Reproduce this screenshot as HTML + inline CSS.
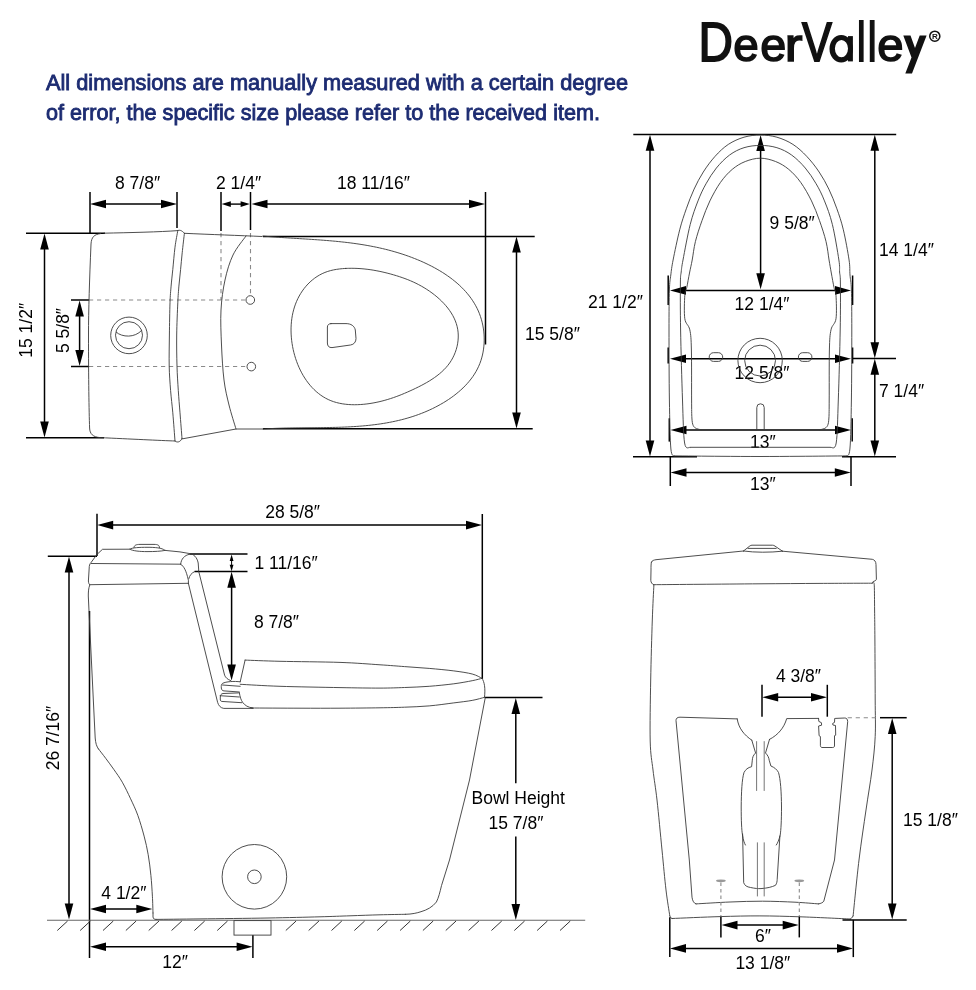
<!DOCTYPE html>
<html><head><meta charset="utf-8"><style>
html,body{margin:0;padding:0;background:#fff;}
body{width:976px;height:990px;overflow:hidden;position:relative;font-family:"Liberation Sans",sans-serif;}
svg{position:absolute;left:0;top:0;}
text{font-family:"Liberation Sans",sans-serif;}
svg{-webkit-font-smoothing:antialiased;will-change:transform;}
</style></head><body>
<svg width="976" height="990" viewBox="0 0 976 990">
<text x="0" y="0" font-size="57.6" fill="#111" stroke="#111" stroke-width="1.9" transform="translate(698.43 61.1) scale(0.8295 0.9753)">D</text>
<text x="0" y="0" font-size="57.6" fill="#111" stroke="#111" stroke-width="1.9" transform="translate(733.3 61.1) scale(0.7955 0.7921)">e</text>
<text x="0" y="0" font-size="57.6" fill="#111" stroke="#111" stroke-width="1.9" transform="translate(760.37 61.1) scale(0.8103 0.7921)">e</text>
<text x="0" y="0" font-size="57.6" fill="#111" stroke="#111" stroke-width="1.9" transform="translate(784.72 61.1) scale(0.9236 0.7985)">r</text>
<text x="0" y="0" font-size="57.6" fill="#111" stroke="#111" stroke-width="1.9" transform="translate(802.05 61.1) scale(0.7781 0.9753)">V</text>
<path fill-rule="evenodd" fill="#111" d="M829.5,48.7 A11.7,13.8 0 1 0 852.9,48.7 A11.7,13.8 0 1 0 829.5,48.7 Z M834.9,48.55 A6.55,8.65 0 1 0 848,48.55 A6.55,8.65 0 1 0 834.9,48.55 Z"/><rect x="848" y="36.1" width="4.9" height="25.3" fill="#111"/>
<text x="0" y="0" font-size="57.6" fill="#111" stroke="#111" stroke-width="1.9" transform="translate(856.94 61.1) scale(0.6716 0.9787)">l</text>
<text x="0" y="0" font-size="57.6" fill="#111" stroke="#111" stroke-width="1.9" transform="translate(867.77 61.1) scale(0.6914 0.9787)">l</text>
<text x="0" y="0" font-size="57.6" fill="#111" stroke="#111" stroke-width="1.9" transform="translate(877.34 61.1) scale(0.8214 0.7921)">e</text>
<path fill="#111" d="M903.3,35.5 L910.5,35.5 L915,48 L919.7,35.5 L926.6,35.5 L912,73.4 L905.3,73.4 L911.5,57.5 Z"/>
<circle cx="934.8" cy="36.2" r="5.05" stroke="#111" stroke-width="1.5" fill="none"/><text x="934.9" y="39.1" font-size="8" font-weight="bold" text-anchor="middle" fill="#111">R</text>
<text x="46" y="89.5" font-size="22" fill="#1d2c72" stroke="#1d2c72" stroke-width="0.85" textLength="582" lengthAdjust="spacingAndGlyphs">All dimensions are manually measured with a certain degree</text>
<text x="46" y="119.8" font-size="22" fill="#1d2c72" stroke="#1d2c72" stroke-width="0.85" textLength="554" lengthAdjust="spacingAndGlyphs">of error, the specific size please refer to the received item.</text>
<line x1="90" y1="192" x2="90" y2="233.5" stroke="#000" stroke-width="1.5" />
<line x1="177" y1="192" x2="177" y2="228" stroke="#000" stroke-width="1.5" />
<line x1="102.8" y1="204" x2="164.2" y2="204" stroke="#000" stroke-width="1.5" />
<path d="M90,204L106,199.7L106,208.3Z" fill="#000"/>
<path d="M177,204L161,208.3L161,199.7Z" fill="#000"/>
<text x="115" y="189.2" font-size="17.5" text-anchor="start" fill="#000" >8 7/8″</text>
<line x1="221" y1="192" x2="221" y2="231" stroke="#000" stroke-width="1.5" />
<line x1="250.5" y1="192" x2="250.5" y2="230" stroke="#000" stroke-width="1.5" />
<line x1="228.96" y1="204.1" x2="242.44" y2="204.1" stroke="#000" stroke-width="1.4" />
<path d="M221.6,204.1L230.8,201.3L230.8,206.9Z" fill="#000"/>
<path d="M249.8,204.1L240.6,206.9L240.6,201.3Z" fill="#000"/>
<text x="216" y="189.3" font-size="17.5" text-anchor="start" fill="#000" >2 1/4″</text>
<line x1="485.5" y1="192" x2="485.5" y2="344.5" stroke="#000" stroke-width="1.5" />
<line x1="264.3" y1="204" x2="472.2" y2="204" stroke="#000" stroke-width="1.5" />
<path d="M251.5,204L267.5,199.7L267.5,208.3Z" fill="#000"/>
<path d="M485,204L469,208.3L469,199.7Z" fill="#000"/>
<text x="337" y="189.2" font-size="17.5" text-anchor="start" fill="#000" >18 11/16″</text>
<line x1="26" y1="233.2" x2="105" y2="233.2" stroke="#000" stroke-width="1.5" />
<line x1="26" y1="437.8" x2="104" y2="437.8" stroke="#000" stroke-width="1.5" />
<line x1="44.5" y1="246.3" x2="44.5" y2="424.7" stroke="#000" stroke-width="1.5" />
<path d="M44.5,233.5L48.8,249.5L40.2,249.5Z" fill="#000"/>
<path d="M44.5,437.5L40.2,421.5L48.8,421.5Z" fill="#000"/>
<text x="32.2" y="330.3" font-size="17.5" text-anchor="middle" fill="#000" transform="rotate(-90 32.2 330.3)" >15 1/2″</text>
<line x1="71" y1="300" x2="89" y2="300" stroke="#000" stroke-width="1.5" />
<line x1="71" y1="366.5" x2="89" y2="366.5" stroke="#000" stroke-width="1.5" />
<line x1="79.6" y1="313.3" x2="79.6" y2="353.2" stroke="#000" stroke-width="1.5" />
<path d="M79.6,300.5L83.9,316.5L75.3,316.5Z" fill="#000"/>
<path d="M79.6,366L75.3,350L83.9,350Z" fill="#000"/>
<text x="69" y="330.5" font-size="17.5" text-anchor="middle" fill="#000" transform="rotate(-90 69 330.5)" >5 5/8″</text>
<line x1="89" y1="300" x2="246" y2="300" stroke="#8a8a8a" stroke-width="1.1" stroke-dasharray="4.2,3.8"/>
<line x1="89" y1="366.5" x2="247" y2="366.5" stroke="#8a8a8a" stroke-width="1.1" stroke-dasharray="4.2,3.8"/>
<line x1="221" y1="233" x2="221" y2="300" stroke="#8a8a8a" stroke-width="1.1" stroke-dasharray="4.2,3.8"/>
<line x1="250.5" y1="233" x2="250.5" y2="295.5" stroke="#8a8a8a" stroke-width="1.1" stroke-dasharray="4.2,3.8"/>
<circle cx="250.3" cy="300" r="4.3" stroke="#3a3a3a" stroke-width="0.9" fill="none"/>
<circle cx="251.3" cy="366.6" r="4.3" stroke="#3a3a3a" stroke-width="0.9" fill="none"/>
<line x1="263" y1="236.4" x2="534.7" y2="236.4" stroke="#000" stroke-width="1.5" />
<line x1="263" y1="428.7" x2="532.7" y2="428.7" stroke="#000" stroke-width="1.5" />
<line x1="516.5" y1="249.4" x2="516.5" y2="415.7" stroke="#000" stroke-width="1.5" />
<path d="M516.5,236.6L520.8,252.6L512.2,252.6Z" fill="#000"/>
<path d="M516.5,428.5L512.2,412.5L520.8,412.5Z" fill="#000"/>
<text x="525" y="339.8" font-size="17.5" text-anchor="start" fill="#000" >15 5/8″</text>
<path d="M104,233.2 C130,232.6 160,232 177.8,230.6" stroke="#3a3a3a" stroke-width="0.9" fill="none" stroke-linejoin="round" stroke-linecap="round" />
<path d="M100.5,233.6 C94,234.5 91.5,237 91,244 C89.5,280 88.5,310 88.5,335 C88.5,380 89,410 89.6,428 C89.8,434 93,437 100,437.6 C130,439 160,440.5 175,441" stroke="#3a3a3a" stroke-width="0.9" fill="none" stroke-linejoin="round" stroke-linecap="round" />
<path d="M177.8,230.6C177.33,233.37 175.83,240.73 175,247.2C174.17,253.67 173.45,262.92 172.8,269.4C172.15,275.88 171.57,280.53 171.1,286.1C170.63,291.67 170.28,294.65 170,302.8C169.72,310.95 169.53,324.45 169.4,335C169.27,345.55 169,356.83 169.2,366.1C169.4,375.37 170,382.82 170.6,390.6C171.2,398.38 172.07,404.4 172.8,412.8C173.53,421.2 174.63,436.3 175,441" stroke="#3a3a3a" stroke-width="0.9" fill="none" stroke-linejoin="round" stroke-linecap="round" />
<path d="M184.4,233.3C184.03,236.55 182.83,246.78 182.2,252.8C181.57,258.82 181.15,263.85 180.6,269.4C180.05,274.95 179.37,280.53 178.9,286.1C178.43,291.67 178.17,294.65 177.8,302.8C177.43,310.95 176.83,324.45 176.7,335C176.57,345.55 176.73,356.83 177,366.1C177.27,375.37 177.8,382.82 178.3,390.6C178.8,398.38 179.38,404.82 180,412.8C180.62,420.78 181.67,434.22 182,438.5" stroke="#3a3a3a" stroke-width="0.9" fill="none" stroke-linejoin="round" stroke-linecap="round" />
<path d="M177.8,230.6 C179.5,229.8 181.5,230 184.4,233.3" stroke="#3a3a3a" stroke-width="0.9" fill="none" stroke-linejoin="round" stroke-linecap="round" />
<path d="M175,441 C176.5,442.5 180,443 182,438.5" stroke="#3a3a3a" stroke-width="0.9" fill="none" stroke-linejoin="round" stroke-linecap="round" />
<path d="M184.4,233.3 C210,234.5 240,235.5 262,236.5" stroke="#3a3a3a" stroke-width="0.9" fill="none" stroke-linejoin="round" stroke-linecap="round" />
<path d="M182,438.9 L236,429 L263,429" stroke="#3a3a3a" stroke-width="0.9" fill="none" stroke-linejoin="round" stroke-linecap="round" />
<path d="M246,236C243.83,239.17 236.5,247.67 233,255C229.5,262.33 227,270.83 225,280C223,289.17 221.58,299.17 221,310C220.42,320.83 221,333.33 221.5,345C222,356.67 222.75,370 224,380C225.25,390 227,396.83 229,405C231,413.17 234.83,425 236,429" stroke="#3a3a3a" stroke-width="0.9" fill="none" stroke-linejoin="round" stroke-linecap="round" />
<circle cx="129" cy="335.4" r="18.3" stroke="#3a3a3a" stroke-width="0.9" fill="none"/>
<circle cx="129" cy="335.2" r="13.5" stroke="#3a3a3a" stroke-width="0.9" fill="none"/>
<path d="M116.3,332.2 C122,337.5 135,338 141.5,330.5" stroke="#3a3a3a" stroke-width="0.9" fill="none" stroke-linejoin="round" stroke-linecap="round" />
<path d="M262.79,236.08C263.3,236.12 264.85,236.25 265.88,236.34C266.91,236.42 267.94,236.51 268.97,236.59C270,236.67 271.02,236.75 272.05,236.83C273.07,236.9 274.1,236.98 275.12,237.05C276.15,237.13 277.17,237.2 278.19,237.27C279.21,237.34 280.23,237.41 281.25,237.48C282.27,237.55 283.29,237.61 284.3,237.68C285.32,237.75 286.34,237.81 287.35,237.88C288.37,237.94 289.38,238.01 290.4,238.07C291.41,238.13 292.42,238.2 293.43,238.26C294.44,238.32 295.45,238.38 296.46,238.45C297.47,238.51 298.48,238.57 299.49,238.63C300.5,238.7 301.5,238.76 302.51,238.82C303.52,238.88 304.52,238.95 305.52,239.01C306.53,239.07 307.53,239.14 308.53,239.2C309.54,239.26 310.54,239.33 311.54,239.4C312.54,239.46 313.54,239.53 314.54,239.6C315.54,239.67 316.54,239.74 317.53,239.81C318.53,239.88 319.53,239.95 320.52,240.02C321.52,240.1 322.52,240.17 323.51,240.25C324.5,240.32 325.5,240.4 326.49,240.48C327.49,240.56 328.48,240.65 329.47,240.73C330.46,240.81 331.45,240.9 332.44,240.99C333.43,241.08 334.42,241.17 335.41,241.26C336.4,241.36 337.39,241.45 338.38,241.55C339.37,241.65 340.35,241.75 341.34,241.86C342.33,241.96 343.31,242.07 344.3,242.18C345.28,242.3 346.27,242.41 347.25,242.53C348.24,242.64 349.22,242.77 350.2,242.89C351.19,243.02 352.17,243.14 353.15,243.28C354.13,243.41 355.12,243.54 356.1,243.68C357.08,243.82 358.06,243.97 359.04,244.11C360.02,244.26 361,244.41 361.98,244.57C362.96,244.73 363.94,244.89 364.92,245.05C365.9,245.22 366.87,245.39 367.85,245.57C368.83,245.74 369.81,245.92 370.78,246.11C371.76,246.29 372.74,246.48 373.71,246.68C374.69,246.87 375.67,247.07 376.64,247.28C377.62,247.48 378.59,247.69 379.57,247.91C380.54,248.13 381.52,248.35 382.49,248.58C383.47,248.81 384.44,249.04 385.41,249.28C386.39,249.52 387.36,249.77 388.33,250.02C389.31,250.28 390.28,250.53 391.25,250.8C392.23,251.07 393.2,251.34 394.17,251.62C395.14,251.89 396.12,252.18 397.09,252.47C398.06,252.76 399.03,253.06 400,253.37C400.97,253.68 401.95,253.99 402.92,254.31C403.89,254.63 404.86,254.96 405.83,255.29C406.8,255.63 407.77,255.97 408.74,256.32C409.72,256.67 410.69,257.03 411.65,257.4C412.62,257.76 413.59,258.13 414.56,258.52C415.52,258.9 416.49,259.29 417.45,259.68C418.41,260.08 419.37,260.49 420.33,260.9C421.28,261.31 422.24,261.73 423.19,262.16C424.14,262.59 425.08,263.03 426.03,263.47C426.97,263.92 427.91,264.37 428.84,264.83C429.77,265.3 430.7,265.77 431.63,266.24C432.55,266.72 433.47,267.21 434.38,267.7C435.29,268.2 436.2,268.7 437.1,269.22C438,269.73 438.89,270.25 439.77,270.78C440.66,271.31 441.54,271.85 442.41,272.39C443.28,272.94 444.14,273.5 445,274.06C445.85,274.63 446.7,275.2 447.53,275.78C448.37,276.36 449.2,276.95 450.02,277.56C450.84,278.16 451.64,278.76 452.44,279.38C453.24,280 454.03,280.63 454.81,281.27C455.58,281.9 456.35,282.55 457.11,283.2C457.86,283.86 458.61,284.52 459.34,285.2C460.07,285.87 460.79,286.56 461.5,287.25C462.2,287.94 462.9,288.64 463.58,289.36C464.26,290.07 464.93,290.79 465.58,291.52C466.24,292.25 466.88,292.99 467.5,293.75C468.13,294.5 468.74,295.26 469.34,296.03C469.93,296.8 470.51,297.58 471.08,298.37C471.65,299.16 472.2,299.96 472.73,300.77C473.26,301.58 473.78,302.4 474.28,303.23C474.78,304.06 475.27,304.9 475.73,305.75C476.2,306.61 476.65,307.47 477.08,308.34C477.51,309.21 477.92,310.09 478.32,310.98C478.71,311.88 479.09,312.78 479.44,313.69C479.8,314.61 480.14,315.53 480.45,316.46C480.77,317.4 481.07,318.34 481.34,319.29C481.62,320.25 481.88,321.21 482.12,322.17C482.36,323.14 482.57,324.12 482.77,325.1C482.97,326.08 483.15,327.06 483.31,328.06C483.46,329.05 483.6,330.04 483.72,331.04C483.83,332.04 483.93,333.04 484,334.05C484.08,335.05 484.13,336.06 484.16,337.07C484.2,338.07 484.21,339.08 484.2,340.09C484.19,341.1 484.16,342.11 484.11,343.11C484.06,344.12 483.99,345.12 483.89,346.13C483.8,347.13 483.68,348.13 483.54,349.12C483.41,350.12 483.25,351.11 483.07,352.09C482.88,353.08 482.68,354.06 482.46,355.03C482.23,356 481.98,356.97 481.71,357.93C481.44,358.89 481.15,359.84 480.84,360.78C480.52,361.72 480.18,362.65 479.82,363.57C479.46,364.5 479.08,365.41 478.67,366.31C478.27,367.21 477.84,368.1 477.39,368.98C476.94,369.85 476.47,370.72 475.98,371.58C475.49,372.43 474.98,373.28 474.45,374.11C473.92,374.95 473.36,375.77 472.8,376.58C472.23,377.4 471.64,378.2 471.03,378.99C470.43,379.78 469.81,380.56 469.17,381.33C468.53,382.09 467.87,382.85 467.2,383.6C466.53,384.34 465.84,385.08 465.14,385.81C464.44,386.53 463.73,387.24 463,387.95C462.27,388.65 461.52,389.34 460.77,390.02C460.01,390.7 459.24,391.37 458.46,392.03C457.68,392.69 456.89,393.34 456.09,393.98C455.29,394.62 454.47,395.24 453.65,395.86C452.83,396.48 452,397.08 451.16,397.68C450.31,398.27 449.46,398.85 448.61,399.43C447.75,400 446.88,400.56 446.01,401.11C445.14,401.67 444.26,402.21 443.37,402.74C442.49,403.27 441.6,403.78 440.7,404.29C439.81,404.8 438.9,405.3 438,405.78C437.1,406.27 436.19,406.75 435.28,407.21C434.37,407.68 433.45,408.13 432.53,408.58C431.62,409.02 430.7,409.45 429.77,409.88C428.85,410.3 427.93,410.71 427,411.12C426.07,411.52 425.14,411.91 424.2,412.3C423.27,412.68 422.34,413.06 421.4,413.42C420.46,413.78 419.52,414.14 418.57,414.49C417.63,414.83 416.68,415.17 415.74,415.49C414.79,415.82 413.84,416.14 412.88,416.45C411.93,416.76 410.98,417.06 410.02,417.35C409.06,417.65 408.1,417.93 407.14,418.21C406.18,418.48 405.22,418.75 404.25,419.01C403.28,419.27 402.32,419.52 401.35,419.77C400.38,420.01 399.41,420.25 398.43,420.48C397.46,420.71 396.48,420.93 395.51,421.14C394.53,421.36 393.55,421.56 392.57,421.76C391.59,421.96 390.61,422.16 389.62,422.34C388.64,422.53 387.65,422.71 386.67,422.88C385.68,423.06 384.69,423.22 383.7,423.39C382.71,423.55 381.72,423.7 380.73,423.85C379.73,424 378.74,424.14 377.74,424.28C376.75,424.42 375.75,424.55 374.75,424.67C373.76,424.8 372.76,424.92 371.76,425.03C370.76,425.15 369.75,425.26 368.75,425.36C367.75,425.47 366.75,425.57 365.74,425.67C364.74,425.76 363.73,425.85 362.73,425.94C361.72,426.02 360.71,426.11 359.7,426.18C358.7,426.26 357.69,426.34 356.68,426.41C355.67,426.47 354.66,426.54 353.65,426.6C352.64,426.66 351.63,426.72 350.61,426.78C349.6,426.83 348.59,426.88 347.58,426.93C346.56,426.98 345.55,427.03 344.54,427.07C343.52,427.11 342.51,427.15 341.49,427.19C340.48,427.22 339.46,427.26 338.45,427.29C337.43,427.32 336.42,427.35 335.4,427.38C334.39,427.4 333.37,427.43 332.36,427.45C331.34,427.47 330.33,427.49 329.31,427.51C328.29,427.53 327.28,427.55 326.26,427.56C325.25,427.58 324.23,427.6 323.22,427.61C322.2,427.62 321.19,427.63 320.17,427.65C319.16,427.66 318.14,427.67 317.13,427.68C316.11,427.69 315.1,427.7 314.09,427.71C313.07,427.71 312.06,427.72 311.05,427.73C310.04,427.74 309.02,427.75 308.01,427.75C307,427.76 305.99,427.77 304.98,427.78C303.97,427.79 302.96,427.8 301.95,427.81C300.94,427.82 299.93,427.83 298.93,427.84C297.92,427.85 296.91,427.86 295.91,427.87C294.9,427.88 293.9,427.9 292.9,427.91C291.89,427.93 290.89,427.94 289.89,427.96C288.89,427.98 287.89,428 286.89,428.02C285.89,428.04 284.89,428.07 283.9,428.09C282.9,428.12 281.9,428.15 280.91,428.18C279.91,428.21 278.92,428.24 277.93,428.27C276.94,428.31 275.95,428.35 274.96,428.39C273.97,428.43 272.99,428.47 272,428.52C271.02,428.56 270.03,428.61 269.05,428.66C268.07,428.72 267.09,428.77 266.11,428.83C265.13,428.89 263.67,428.99 263.18,429.02" stroke="#3a3a3a" stroke-width="0.9" fill="none" stroke-linejoin="round" stroke-linecap="round" />
<path d="M345.71,268.44C346.74,268.38 347.76,268.35 348.79,268.32C349.81,268.3 350.83,268.29 351.85,268.29C352.88,268.29 353.9,268.31 354.92,268.34C355.94,268.37 356.96,268.41 357.97,268.46C358.99,268.52 360.01,268.58 361.02,268.66C362.04,268.74 363.05,268.83 364.06,268.93C365.07,269.03 366.08,269.14 367.09,269.27C368.1,269.39 369.1,269.53 370.11,269.67C371.11,269.81 372.11,269.97 373.11,270.13C374.11,270.3 375.11,270.47 376.1,270.66C377.1,270.84 378.09,271.04 379.08,271.24C380.07,271.44 381.05,271.65 382.04,271.87C383.02,272.09 384,272.32 384.98,272.55C385.95,272.79 386.93,273.03 387.9,273.29C388.87,273.54 389.83,273.8 390.8,274.06C391.76,274.33 392.72,274.6 393.67,274.88C394.63,275.16 395.58,275.44 396.53,275.73C397.47,276.02 398.42,276.32 399.36,276.63C400.3,276.94 401.24,277.25 402.17,277.58C403.1,277.9 404.03,278.24 404.96,278.58C405.89,278.92 406.81,279.28 407.73,279.64C408.66,280.01 409.58,280.39 410.49,280.78C411.41,281.17 412.33,281.57 413.24,281.99C414.15,282.41 415.06,282.84 415.97,283.28C416.88,283.73 417.79,284.19 418.69,284.66C419.6,285.14 420.5,285.63 421.4,286.14C422.31,286.64 423.21,287.17 424.1,287.71C424.99,288.24 425.88,288.8 426.76,289.37C427.65,289.94 428.52,290.52 429.39,291.12C430.26,291.71 431.12,292.33 431.97,292.95C432.82,293.58 433.66,294.22 434.49,294.87C435.32,295.53 436.14,296.2 436.94,296.88C437.74,297.56 438.53,298.25 439.31,298.96C440.08,299.67 440.84,300.39 441.59,301.12C442.33,301.85 443.06,302.59 443.76,303.35C444.47,304.11 445.16,304.88 445.83,305.66C446.5,306.44 447.15,307.23 447.78,308.03C448.4,308.83 449.01,309.65 449.59,310.47C450.17,311.3 450.73,312.13 451.26,312.98C451.79,313.82 452.29,314.68 452.77,315.54C453.25,316.41 453.7,317.29 454.13,318.17C454.55,319.06 454.94,319.95 455.3,320.86C455.67,321.76 456,322.67 456.3,323.59C456.6,324.52 456.87,325.45 457.1,326.39C457.33,327.32 457.53,328.27 457.69,329.23C457.86,330.18 457.99,331.14 458.08,332.11C458.17,333.08 458.23,334.05 458.26,335.03C458.28,336 458.27,336.98 458.23,337.96C458.19,338.94 458.11,339.92 458.01,340.9C457.9,341.87 457.76,342.85 457.59,343.82C457.42,344.8 457.22,345.77 456.99,346.73C456.76,347.69 456.49,348.65 456.2,349.6C455.91,350.55 455.59,351.49 455.23,352.42C454.88,353.35 454.5,354.28 454.09,355.18C453.69,356.09 453.25,356.99 452.78,357.87C452.32,358.75 451.83,359.61 451.31,360.46C450.79,361.31 450.25,362.14 449.68,362.96C449.11,363.77 448.51,364.56 447.89,365.34C447.27,366.11 446.62,366.87 445.96,367.61C445.29,368.35 444.6,369.08 443.89,369.79C443.19,370.49 442.46,371.18 441.71,371.86C440.96,372.54 440.2,373.2 439.42,373.84C438.64,374.49 437.84,375.12 437.02,375.74C436.21,376.35 435.38,376.96 434.54,377.55C433.7,378.14 432.85,378.71 431.99,379.28C431.12,379.84 430.25,380.4 429.36,380.94C428.48,381.48 427.59,382.01 426.69,382.53C425.79,383.05 424.88,383.56 423.96,384.05C423.05,384.55 422.13,385.04 421.21,385.52C420.29,386 419.36,386.47 418.43,386.93C417.51,387.4 416.57,387.85 415.65,388.3C414.72,388.74 413.79,389.18 412.86,389.62C411.93,390.05 411.01,390.47 410.08,390.89C409.16,391.31 408.23,391.73 407.31,392.13C406.39,392.54 405.47,392.93 404.54,393.32C403.62,393.71 402.7,394.1 401.78,394.47C400.85,394.84 399.93,395.21 399,395.57C398.08,395.93 397.15,396.28 396.22,396.62C395.29,396.96 394.36,397.3 393.42,397.62C392.48,397.94 391.54,398.26 390.6,398.56C389.66,398.87 388.71,399.17 387.76,399.45C386.81,399.74 385.85,400.02 384.89,400.28C383.93,400.55 382.96,400.81 381.99,401.06C381.02,401.3 380.04,401.54 379.05,401.77C378.07,401.99 377.07,402.21 376.07,402.41C375.07,402.62 374.07,402.81 373.05,402.99C372.04,403.17 371.02,403.34 369.99,403.5C368.97,403.66 367.94,403.8 366.91,403.93C365.88,404.06 364.84,404.17 363.8,404.27C362.77,404.37 361.73,404.46 360.69,404.53C359.65,404.6 358.61,404.65 357.57,404.68C356.53,404.72 355.49,404.74 354.46,404.74C353.43,404.74 352.39,404.72 351.37,404.68C350.34,404.64 349.31,404.58 348.3,404.51C347.28,404.43 346.26,404.33 345.26,404.21C344.25,404.09 343.25,403.95 342.26,403.79C341.27,403.62 340.29,403.44 339.32,403.23C338.35,403.02 337.38,402.79 336.43,402.53C335.48,402.27 334.54,401.99 333.61,401.68C332.69,401.37 331.77,401.04 330.87,400.68C329.97,400.32 329.08,399.94 328.21,399.52C327.34,399.11 326.48,398.67 325.64,398.21C324.79,397.75 323.97,397.26 323.15,396.75C322.34,396.25 321.54,395.71 320.75,395.16C319.97,394.6 319.19,394.02 318.44,393.42C317.68,392.82 316.94,392.2 316.21,391.56C315.49,390.92 314.77,390.26 314.08,389.58C313.38,388.9 312.7,388.2 312.03,387.48C311.36,386.76 310.71,386.03 310.08,385.27C309.44,384.52 308.82,383.75 308.21,382.96C307.6,382.18 307.01,381.37 306.44,380.56C305.86,379.74 305.3,378.91 304.76,378.06C304.21,377.21 303.68,376.35 303.17,375.48C302.66,374.61 302.16,373.72 301.68,372.82C301.19,371.92 300.73,371.01 300.28,370.09C299.83,369.17 299.39,368.24 298.97,367.3C298.55,366.36 298.15,365.41 297.76,364.45C297.38,363.49 297.01,362.52 296.65,361.54C296.3,360.57 295.96,359.58 295.64,358.59C295.32,357.6 295.01,356.6 294.72,355.6C294.43,354.6 294.16,353.59 293.9,352.58C293.65,351.57 293.41,350.55 293.18,349.53C292.96,348.51 292.75,347.48 292.57,346.46C292.38,345.43 292.2,344.4 292.05,343.37C291.89,342.34 291.75,341.31 291.63,340.27C291.51,339.24 291.41,338.21 291.33,337.17C291.24,336.14 291.17,335.1 291.13,334.07C291.08,333.04 291.05,332.01 291.04,330.97C291.02,329.94 291.03,328.91 291.06,327.89C291.08,326.86 291.13,325.84 291.19,324.81C291.25,323.79 291.34,322.78 291.44,321.76C291.54,320.75 291.66,319.74 291.81,318.73C291.95,317.73 292.11,316.73 292.29,315.74C292.47,314.74 292.68,313.75 292.9,312.77C293.12,311.79 293.37,310.82 293.63,309.85C293.89,308.88 294.18,307.92 294.49,306.97C294.79,306.02 295.12,305.08 295.47,304.14C295.82,303.21 296.19,302.28 296.58,301.37C296.98,300.45 297.39,299.55 297.83,298.65C298.26,297.76 298.72,296.88 299.2,296C299.68,295.13 300.19,294.27 300.71,293.43C301.23,292.58 301.78,291.75 302.34,290.94C302.91,290.12 303.5,289.32 304.1,288.53C304.71,287.75 305.33,286.98 305.98,286.23C306.62,285.48 307.29,284.75 307.97,284.03C308.66,283.32 309.36,282.63 310.08,281.96C310.8,281.29 311.54,280.63 312.3,280.01C313.06,279.38 313.83,278.77 314.62,278.19C315.41,277.61 316.22,277.05 317.05,276.52C317.87,275.98 318.72,275.47 319.58,274.99C320.43,274.51 321.31,274.06 322.2,273.64C323.09,273.21 323.99,272.81 324.91,272.45C325.83,272.08 326.77,271.74 327.72,271.43C328.67,271.12 329.63,270.85 330.6,270.59C331.57,270.34 332.56,270.11 333.55,269.9C334.54,269.7 335.54,269.52 336.55,269.36C337.55,269.2 338.57,269.06 339.58,268.94C340.6,268.82 341.62,268.72 342.64,268.64C343.67,268.56 344.69,268.49 345.71,268.44Z" stroke="#3a3a3a" stroke-width="0.9" fill="none" stroke-linejoin="round" stroke-linecap="round" />
<path d="M331,323.6 L346,323.6 C351,323.6 354.5,326 355.3,330 L356,338.5 C356,342 354,344.5 350.5,345 L332,347.6 C329,347.8 327.4,346 327.4,343 L327.4,327 C327.4,325 328.8,323.6 331,323.6 Z" stroke="#3a3a3a" stroke-width="0.9" fill="none" stroke-linejoin="round" stroke-linecap="round" />
<line x1="633.3" y1="134.4" x2="896.2" y2="134.4" stroke="#000" stroke-width="1.5" />
<line x1="633" y1="456.8" x2="697" y2="456.8" stroke="#000" stroke-width="1.5" />
<line x1="842" y1="456.8" x2="896" y2="456.8" stroke="#000" stroke-width="1.5" />
<line x1="650" y1="147.6" x2="650" y2="443.6" stroke="#000" stroke-width="1.5" />
<path d="M650,134.8L654.3,150.8L645.7,150.8Z" fill="#000"/>
<path d="M650,456.4L645.7,440.4L654.3,440.4Z" fill="#000"/>
<text x="588" y="307.8" font-size="17.5" text-anchor="start" fill="#000" >21 1/2″</text>
<line x1="760.6" y1="147.8" x2="760.6" y2="276.5" stroke="#000" stroke-width="1.5" />
<path d="M760.6,135L764.9,151L756.3,151Z" fill="#000"/>
<path d="M760.6,289.3L756.3,273.3L764.9,273.3Z" fill="#000"/>
<text x="769.6" y="228.8" font-size="17.5" text-anchor="start" fill="#000" >9 5/8″</text>
<line x1="874.8" y1="147.6" x2="874.8" y2="345.4" stroke="#000" stroke-width="1.5" />
<path d="M874.8,134.8L879.1,150.8L870.5,150.8Z" fill="#000"/>
<path d="M874.8,358.2L870.5,342.2L879.1,342.2Z" fill="#000"/>
<text x="879" y="256.1" font-size="17.5" text-anchor="start" fill="#000" >14 1/4″</text>
<line x1="874.8" y1="371.6" x2="874.8" y2="443.6" stroke="#000" stroke-width="1.5" />
<path d="M874.8,358.8L879.1,374.8L870.5,374.8Z" fill="#000"/>
<path d="M874.8,456.4L870.5,440.4L879.1,440.4Z" fill="#000"/>
<text x="879" y="397.3" font-size="17.5" text-anchor="start" fill="#000" >7 1/4″</text>
<line x1="852.5" y1="358.5" x2="896" y2="358.5" stroke="#000" stroke-width="1.5" />
<line x1="668.2" y1="275.5" x2="668.2" y2="305" stroke="#000" stroke-width="1.5" />
<line x1="852.6" y1="275.5" x2="852.6" y2="305" stroke="#000" stroke-width="1.5" />
<line x1="682.8" y1="290.4" x2="838.2" y2="290.4" stroke="#000" stroke-width="1.5" />
<path d="M670,290.4L686,286.1L686,294.7Z" fill="#000"/>
<path d="M851,290.4L835,294.7L835,286.1Z" fill="#000"/>
<text x="734.6" y="309.8" font-size="17.5" text-anchor="start" fill="#000" >12 1/4″</text>
<line x1="668.2" y1="347.5" x2="668.2" y2="363.5" stroke="#000" stroke-width="1.5" />
<line x1="852.6" y1="347.5" x2="852.6" y2="363.5" stroke="#000" stroke-width="1.5" />
<line x1="682.8" y1="358.8" x2="838.2" y2="358.8" stroke="#000" stroke-width="1.5" />
<path d="M670,358.8L686,354.5L686,363.1Z" fill="#000"/>
<path d="M851,358.8L835,363.1L835,354.5Z" fill="#000"/>
<text x="734.6" y="378.6" font-size="17.5" text-anchor="start" fill="#000" >12 5/8″</text>
<line x1="669.3" y1="418.3" x2="669.3" y2="441.6" stroke="#000" stroke-width="1.5" />
<line x1="852.2" y1="418.3" x2="852.2" y2="441.6" stroke="#000" stroke-width="1.5" />
<line x1="683.3" y1="430" x2="838.2" y2="430" stroke="#000" stroke-width="1.5" />
<path d="M670.5,430L686.5,425.7L686.5,434.3Z" fill="#000"/>
<path d="M851,430L835,434.3L835,425.7Z" fill="#000"/>
<text x="750" y="447.8" font-size="17.5" text-anchor="start" fill="#000" >13″</text>
<line x1="670.3" y1="456.8" x2="670.3" y2="486" stroke="#000" stroke-width="1.5" />
<line x1="851" y1="456.8" x2="851" y2="486" stroke="#000" stroke-width="1.5" />
<line x1="683.3" y1="472.5" x2="838" y2="472.5" stroke="#000" stroke-width="1.5" />
<path d="M670.5,472.5L686.5,468.2L686.5,476.8Z" fill="#000"/>
<path d="M850.8,472.5L834.8,476.8L834.8,468.2Z" fill="#000"/>
<text x="750" y="489.8" font-size="17.5" text-anchor="start" fill="#000" >13″</text>
<path d="M674.8,455.9C674.15,454.75 671.8,458.32 670.9,449C670,439.68 669.72,419.83 669.4,400C669.08,380.17 669,348.33 669,330C669,311.67 669.1,299.17 669.4,290C669.7,280.83 670.18,280 670.8,275C671.42,270 671.62,267.53 673.1,260C674.58,252.47 677.5,238.33 679.7,229.8C681.9,221.27 683.9,215.58 686.3,208.8C688.7,202.02 691.27,195.23 694.1,189.1C696.93,182.97 699.8,177.47 703.3,172C706.8,166.53 710.93,160.9 715.1,156.3C719.27,151.7 723.48,147.58 728.3,144.4C733.12,141.22 738.65,138.77 744,137.2C749.35,135.63 754.92,135 760.4,135C765.88,135 771.48,135.63 776.91,137.2C782.33,138.77 787.99,141.22 792.95,144.4C797.92,147.58 802.34,151.7 806.7,156.3C811.07,160.9 815.45,166.53 819.14,172C822.82,177.47 825.88,182.97 828.84,189.1C831.79,195.23 834.47,202.02 836.89,208.8C839.31,215.58 841.32,221.27 843.35,229.8C845.38,238.33 847.96,252.47 849.07,260C850.18,267.53 849.61,270 850,275C850.39,280 851.1,280.83 851.4,290C851.7,299.17 851.8,311.67 851.8,330C851.8,348.33 851.72,380.17 851.4,400C851.08,419.83 850.8,439.68 849.9,449C849,458.32 846.65,454.75 846,455.9" stroke="#3a3a3a" stroke-width="0.9" fill="none" stroke-linejoin="round" stroke-linecap="round" />
<path d="M674.8,455.9C682.33,455.97 705.8,456.2 720,456.3C734.2,456.4 746.67,456.5 760,456.5C773.33,456.5 785.67,456.4 800,456.3C814.33,456.2 838.33,455.97 846,455.9" stroke="#3a3a3a" stroke-width="0.9" fill="none" stroke-linejoin="round" stroke-linecap="round" />
<path d="M690,447.3C689.1,446.58 685.85,450.88 684.6,443C683.35,435.12 683.17,418.83 682.5,400C681.83,381.17 680.95,349.5 680.6,330C680.25,310.5 680.3,292.67 680.4,283C680.5,273.33 680.77,275.83 681.2,272C681.63,268.17 681.5,267.92 683,260C684.5,252.08 687.7,234.35 690.2,224.5C692.7,214.65 695.37,207.68 698,200.9C700.63,194.12 702.93,189.28 706,183.8C709.07,178.32 712.47,172.8 716.4,168C720.33,163.2 725,158.38 729.6,155C734.2,151.62 738.87,149.3 744,147.7C749.13,146.1 754.92,145.4 760.4,145.4C765.88,145.4 771.71,146.1 776.91,147.7C782.1,149.3 786.86,151.62 791.59,155C796.31,158.38 801.17,163.2 805.26,168C809.35,172.8 812.94,178.32 816.14,183.8C819.35,189.28 821.78,194.12 824.48,200.9C827.19,207.68 829.98,214.65 832.38,224.5C834.78,234.35 837.69,252.08 838.89,260C840.09,267.92 839.35,268.17 839.6,272C839.85,275.83 840.3,273.33 840.4,283C840.5,292.67 840.55,310.5 840.2,330C839.85,349.5 838.97,381.17 838.3,400C837.63,418.83 837.45,435.12 836.2,443C834.95,450.88 831.7,446.58 830.8,447.3" stroke="#3a3a3a" stroke-width="0.9" fill="none" stroke-linejoin="round" stroke-linecap="round" />
<line x1="690" y1="447.3" x2="830.8" y2="447.3" stroke="#3a3a3a" stroke-width="0.9" />
<path d="M701,429.7C700.25,429.52 697.8,429.3 696.5,428.6C695.2,427.9 693.97,427.27 693.2,425.5C692.43,423.73 692.17,422.25 691.9,418C691.63,413.75 691.68,411.33 691.6,400C691.52,388.67 691.7,361.7 691.4,350C691.1,338.3 690.9,335.02 689.8,329.8C688.7,324.58 685.63,324.42 684.8,318.7C683.97,312.98 684.47,300.72 684.8,295.5C685.13,290.28 686.02,291.15 686.8,287.4C687.58,283.65 688.6,277.57 689.5,273C690.4,268.43 691.22,265.23 692.2,260C693.18,254.77 693.77,248.17 695.4,241.6C697.03,235.03 699.58,227.38 702,220.6C704.42,213.82 706.83,207.25 709.9,200.9C712.97,194.55 716.68,187.75 720.4,182.5C724.12,177.25 728.05,172.9 732.2,169.4C736.35,165.9 740.6,163.37 745.3,161.5C750,159.63 755.36,158.2 760.4,158.2C765.44,158.2 770.83,159.63 775.56,161.5C780.29,163.37 784.58,165.9 788.79,169.4C792.99,172.9 797,177.25 800.79,182.5C804.57,187.75 808.38,194.55 811.5,200.9C814.62,207.25 817.07,213.82 819.5,220.6C821.92,227.38 824.45,235.03 826.04,241.6C827.63,248.17 828.18,254.77 829.06,260C829.94,265.23 830.48,268.43 831.3,273C832.12,277.57 833.22,283.65 834,287.4C834.78,291.15 835.67,290.28 836,295.5C836.33,300.72 836.83,312.98 836,318.7C835.17,324.42 832.1,324.58 831,329.8C829.9,335.02 829.7,338.3 829.4,350C829.1,361.7 829.28,388.67 829.2,400C829.12,411.33 829.17,413.75 828.9,418C828.63,422.25 828.37,423.73 827.6,425.5C826.83,427.27 825.6,427.9 824.3,428.6C823,429.3 820.55,429.52 819.8,429.7" stroke="#3a3a3a" stroke-width="0.9" fill="none" stroke-linejoin="round" stroke-linecap="round" />
<line x1="701" y1="429.7" x2="819.8" y2="429.7" stroke="#3a3a3a" stroke-width="0.9" />
<circle cx="760.1" cy="360.5" r="22.2" stroke="#3a3a3a" stroke-width="0.9" fill="none"/>
<circle cx="760.1" cy="360.6" r="15.4" stroke="#3a3a3a" stroke-width="0.9" fill="none"/>
<rect x="709.2" y="352.7" width="13.5" height="8.7" rx="4.3" stroke="#3a3a3a" stroke-width="0.9" fill="none"/>
<rect x="798.4" y="352.7" width="13.5" height="8.7" rx="4.3" stroke="#3a3a3a" stroke-width="0.9" fill="none"/>
<path d="M756.8,430 L756.8,407.5 A3.7,3.7 0 0 1 764.2,407.5 L764.2,430" stroke="#3a3a3a" stroke-width="0.9" fill="none" stroke-linejoin="round" stroke-linecap="round" />
<line x1="97" y1="513.8" x2="97" y2="556" stroke="#000" stroke-width="1.5" />
<line x1="482.3" y1="514" x2="482.3" y2="679" stroke="#000" stroke-width="1.5" />
<line x1="110" y1="525.1" x2="469.2" y2="525.1" stroke="#000" stroke-width="1.5" />
<path d="M97.2,525.1L113.2,520.8L113.2,529.4Z" fill="#000"/>
<path d="M482,525.1L466,529.4L466,520.8Z" fill="#000"/>
<text x="265.2" y="517.8" font-size="17.5" text-anchor="start" fill="#000" >28 5/8″</text>
<line x1="47.8" y1="556.3" x2="97" y2="556.3" stroke="#000" stroke-width="1.5" />
<line x1="69" y1="569.4" x2="69" y2="906.7" stroke="#000" stroke-width="1.5" />
<path d="M69,556.6L73.3,572.6L64.7,572.6Z" fill="#000"/>
<path d="M69,919.5L64.7,903.5L73.3,903.5Z" fill="#000"/>
<text x="59.3" y="738" font-size="17.5" text-anchor="middle" fill="#000" transform="rotate(-90 59.3 738)" >26 7/16″</text>
<line x1="189.3" y1="554.1" x2="247.5" y2="554.1" stroke="#000" stroke-width="1.5" />
<line x1="194.6" y1="571.6" x2="247.5" y2="571.6" stroke="#000" stroke-width="1.5" />
<line x1="231.6" y1="559.8" x2="231.6" y2="566" stroke="#000" stroke-width="1.0" />
<path d="M231.6,554.6L233.5,561.1L229.7,561.1Z" fill="#000"/>
<path d="M231.6,571.2L229.7,564.7L233.5,564.7Z" fill="#000"/>
<text x="254.5" y="569.2" font-size="17.5" text-anchor="start" fill="#000" >1 11/16″</text>
<line x1="231.6" y1="584.6" x2="231.6" y2="667.6" stroke="#000" stroke-width="1.5" />
<path d="M231.6,571.8L235.9,587.8L227.3,587.8Z" fill="#000"/>
<path d="M231.6,680.4L227.3,664.4L235.9,664.4Z" fill="#000"/>
<text x="253.9" y="627.7" font-size="17.5" text-anchor="start" fill="#000" >8 7/8″</text>
<line x1="484.8" y1="697.6" x2="542.5" y2="697.6" stroke="#000" stroke-width="1.5" />
<line x1="515.8" y1="783.3" x2="515.8" y2="714" stroke="#000" stroke-width="1.5" />
<path d="M515.8,698L520.1,714L511.5,714Z" fill="#000"/>
<line x1="515.8" y1="836.5" x2="515.8" y2="904" stroke="#000" stroke-width="1.5" />
<path d="M515.8,920L511.5,904L520.1,904Z" fill="#000"/>
<text x="471.5" y="803.8" font-size="17.5" text-anchor="start" fill="#000" >Bowl Height</text>
<text x="488.5" y="828.8" font-size="17.5" text-anchor="start" fill="#000" >15 7/8″</text>
<line x1="89.5" y1="611" x2="89.5" y2="958" stroke="#000" stroke-width="1.5" />
<line x1="102.8" y1="909" x2="139.5" y2="909" stroke="#000" stroke-width="1.5" />
<path d="M90,909L106,904.7L106,913.3Z" fill="#000"/>
<path d="M152.3,909L136.3,913.3L136.3,904.7Z" fill="#000"/>
<text x="101.3" y="898.5" font-size="17.5" text-anchor="start" fill="#000" >4 1/2″</text>
<line x1="252.9" y1="935" x2="252.9" y2="958" stroke="#000" stroke-width="1.5" />
<line x1="102.8" y1="946.8" x2="239.8" y2="946.8" stroke="#000" stroke-width="1.5" />
<path d="M90,946.8L106,942.5L106,951.1Z" fill="#000"/>
<path d="M252.6,946.8L236.6,951.1L236.6,942.5Z" fill="#000"/>
<text x="162.2" y="967.6" font-size="17.5" text-anchor="start" fill="#000" >12″</text>
<line x1="47" y1="920.2" x2="585.2" y2="920.2" stroke="#666" stroke-width="1.1" />
<line x1="57.3" y1="930.5" x2="67.6" y2="921" stroke="#333" stroke-width="1.0" />
<line x1="80.15" y1="930.5" x2="90.45" y2="921" stroke="#333" stroke-width="1.0" />
<line x1="103" y1="930.5" x2="113.3" y2="921" stroke="#333" stroke-width="1.0" />
<line x1="125.85" y1="930.5" x2="136.15" y2="921" stroke="#333" stroke-width="1.0" />
<line x1="148.7" y1="930.5" x2="159" y2="921" stroke="#333" stroke-width="1.0" />
<line x1="171.55" y1="930.5" x2="181.85" y2="921" stroke="#333" stroke-width="1.0" />
<line x1="194.4" y1="930.5" x2="204.7" y2="921" stroke="#333" stroke-width="1.0" />
<line x1="217.25" y1="930.5" x2="227.55" y2="921" stroke="#333" stroke-width="1.0" />
<line x1="285.8" y1="930.5" x2="296.1" y2="921" stroke="#333" stroke-width="1.0" />
<line x1="308.65" y1="930.5" x2="318.95" y2="921" stroke="#333" stroke-width="1.0" />
<line x1="331.5" y1="930.5" x2="341.8" y2="921" stroke="#333" stroke-width="1.0" />
<line x1="354.35" y1="930.5" x2="364.65" y2="921" stroke="#333" stroke-width="1.0" />
<line x1="377.2" y1="930.5" x2="387.5" y2="921" stroke="#333" stroke-width="1.0" />
<line x1="400.05" y1="930.5" x2="410.35" y2="921" stroke="#333" stroke-width="1.0" />
<line x1="422.9" y1="930.5" x2="433.2" y2="921" stroke="#333" stroke-width="1.0" />
<line x1="445.75" y1="930.5" x2="456.05" y2="921" stroke="#333" stroke-width="1.0" />
<line x1="468.6" y1="930.5" x2="478.9" y2="921" stroke="#333" stroke-width="1.0" />
<line x1="491.45" y1="930.5" x2="501.75" y2="921" stroke="#333" stroke-width="1.0" />
<line x1="514.3" y1="930.5" x2="524.6" y2="921" stroke="#333" stroke-width="1.0" />
<line x1="537.15" y1="930.5" x2="547.45" y2="921" stroke="#333" stroke-width="1.0" />
<line x1="560" y1="930.5" x2="570.3" y2="921" stroke="#333" stroke-width="1.0" />
<rect x="234" y="920.6" width="37" height="14.5" stroke="#3a3a3a" stroke-width="0.9" fill="#fff"/>
<circle cx="254.4" cy="876.8" r="32.3" stroke="#3a3a3a" stroke-width="0.9" fill="none"/>
<circle cx="254.4" cy="876.8" r="6.8" stroke="#3a3a3a" stroke-width="0.9" fill="none"/>
<path d="M129.7,549.2 C133,551 140,551.6 147,551.6 C155,551.6 161,551.3 165,550.4" stroke="#3a3a3a" stroke-width="0.9" fill="none" stroke-linejoin="round" stroke-linecap="round" />
<path d="M96.9,554.5 L102.5,549.3 L129.7,549.2 C132,547.6 140,547.3 147,547.3 C155,547.3 162,547.8 165,550.4 L180,551.9 L189.3,553.5 C193.5,554 197,557 198.2,563 L198.7,570" stroke="#3a3a3a" stroke-width="0.9" fill="none" stroke-linejoin="round" stroke-linecap="round" />
<path d="M134,547.5 C134,545.3 136,544.4 140,544.4 L154,544.4 C158,544.4 159.5,545.3 159.5,547.6" stroke="#3a3a3a" stroke-width="0.9" fill="none" stroke-linejoin="round" stroke-linecap="round" />
<path d="M96.9,554.5 L91.3,562.2 C89.5,564 89.2,566 89.2,568 L88.4,581 C88.5,583 89,584.3 89.7,584.7" stroke="#3a3a3a" stroke-width="0.9" fill="none" stroke-linejoin="round" stroke-linecap="round" />
<path d="M91.3,563.5 L180.7,564.2" stroke="#3a3a3a" stroke-width="0.9" fill="none" stroke-linejoin="round" stroke-linecap="round" />
<path d="M180.7,564.2 C181,559 184.5,555.3 189.3,554.3" stroke="#3a3a3a" stroke-width="0.9" fill="none" stroke-linejoin="round" stroke-linecap="round" />
<path d="M89.7,584.7 L188.4,583.3" stroke="#3a3a3a" stroke-width="0.9" fill="none" stroke-linejoin="round" stroke-linecap="round" />
<path d="M180.7,564.2 C184,566.5 186,570 188.4,580.2 L188.4,583.4" stroke="#3a3a3a" stroke-width="0.9" fill="none" stroke-linejoin="round" stroke-linecap="round" />
<path d="M194.6,571.6 C191.5,573 189.5,575.5 188.9,578.5" stroke="#3a3a3a" stroke-width="0.9" fill="none" stroke-linejoin="round" stroke-linecap="round" />
<path d="M188.4,583.4 L217.6,702.3 C218.5,705.5 220.5,708 223.8,708.4 L253,708.4" stroke="#3a3a3a" stroke-width="0.9" fill="none" stroke-linejoin="round" stroke-linecap="round" />
<path d="M198.5,570.5 L224.6,675.2 C225.5,677.5 227.5,679.5 230.7,680.6" stroke="#3a3a3a" stroke-width="0.9" fill="none" stroke-linejoin="round" stroke-linecap="round" />
<path d="M240.2,681.8 C234,681 226,681.5 222.5,683.4 C221,684.5 221.3,686 221.3,688 C221.5,690 222.5,690.8 224,690.9 L239.3,692" stroke="#3a3a3a" stroke-width="0.9" fill="none" stroke-linejoin="round" stroke-linecap="round" />
<path d="M222.5,685 L240.2,686.3" stroke="#3a3a3a" stroke-width="0.9" fill="none" stroke-linejoin="round" stroke-linecap="round" />
<path d="M238.5,692.9 L223,693.5 C221,693.8 220.5,695 220.3,697 L220.3,700 C220.5,701.2 221.5,701.5 223,701.5 L241.8,702.7" stroke="#3a3a3a" stroke-width="0.9" fill="none" stroke-linejoin="round" stroke-linecap="round" />
<path d="M220.1,695.7 L239.3,697" stroke="#3a3a3a" stroke-width="0.9" fill="none" stroke-linejoin="round" stroke-linecap="round" />
<path d="M245.1,660.1 L240.2,681.8" stroke="#3a3a3a" stroke-width="0.9" fill="none" stroke-linejoin="round" stroke-linecap="round" />
<path d="M245.1,660.1C250.92,660.3 264.18,660.92 280,661.3C295.82,661.68 323.33,661.82 340,662.4C356.67,662.98 369.23,664.1 380,664.8C390.77,665.5 396.4,666 404.6,666.6C412.8,667.2 421,667.68 429.2,668.4C437.4,669.12 446.63,669.97 453.8,670.9C460.97,671.83 467.5,672.77 472.2,674C476.9,675.23 480.37,677.58 482,678.3" stroke="#3a3a3a" stroke-width="0.9" fill="none" stroke-linejoin="round" stroke-linecap="round" />
<path d="M240.2,684.3C246.83,684.63 263.37,685.75 280,686.3C296.63,686.85 323.33,687.3 340,687.6C356.67,687.9 369.23,688.12 380,688.1C390.77,688.08 396.4,687.8 404.6,687.5C412.8,687.2 421,686.92 429.2,686.3C437.4,685.68 446.63,684.73 453.8,683.8C460.97,682.87 467.5,681.62 472.2,680.7C476.9,679.78 480.37,678.7 482,678.3" stroke="#3a3a3a" stroke-width="0.9" fill="none" stroke-linejoin="round" stroke-linecap="round" />
<path d="M482,678.3 C484.5,682 485.5,688 484.5,697.3" stroke="#3a3a3a" stroke-width="0.9" fill="none" stroke-linejoin="round" stroke-linecap="round" />
<path d="M239.3,692.5 C240,697 241,700 242.6,702.3 C245,705.5 248,707.5 253,708" stroke="#3a3a3a" stroke-width="0.9" fill="none" stroke-linejoin="round" stroke-linecap="round" />
<path d="M250.8,708C259,708.03 285.13,708.17 300,708.2C314.87,708.23 326.67,708.27 340,708.2C353.33,708.13 369.23,707.97 380,707.8C390.77,707.63 396.4,707.52 404.6,707.2C412.8,706.88 421,706.62 429.2,705.9C437.4,705.18 446.63,703.82 453.8,702.9C460.97,701.98 467.08,701.33 472.2,700.4C477.32,699.47 482.45,697.82 484.5,697.3" stroke="#3a3a3a" stroke-width="0.9" fill="none" stroke-linejoin="round" stroke-linecap="round" />
<path d="M89.7,585.2 C88.5,588 88.3,592 88.3,596 L89,611 L94.3,720 L95.2,738 C95.6,743 96.5,746.5 98.5,749" stroke="#3a3a3a" stroke-width="0.9" fill="none" stroke-linejoin="round" stroke-linecap="round" />
<path d="M98.5,749C99.7,750.55 103.12,754.85 105.7,758.3C108.28,761.75 111.23,765.72 114,769.7C116.77,773.68 119.53,777.35 122.3,782.2C125.07,787.05 128.02,793.28 130.6,798.8C133.18,804.32 135.55,809.08 137.8,815.3C140.05,821.52 142.37,829.53 144.1,836.1C145.83,842.67 147.07,848.15 148.2,854.7C149.33,861.25 150.2,868.48 150.9,875.4C151.6,882.32 152.05,889.93 152.4,896.2C152.75,902.47 152.9,910.2 153,913" stroke="#3a3a3a" stroke-width="0.9" fill="none" stroke-linejoin="round" stroke-linecap="round" />
<path d="M153,913 L153,917 C153.3,919 154.5,919.5 156,919.4" stroke="#3a3a3a" stroke-width="0.9" fill="none" stroke-linejoin="round" stroke-linecap="round" />
<path d="M156,919.4C163.33,919.32 181.33,919.13 200,918.9C218.67,918.67 248,918.35 268,918C288,917.65 306.33,917.17 320,916.8C333.67,916.43 340,916.13 350,915.8C360,915.47 370.73,915.05 380,914.8C389.27,914.55 401.33,914.38 405.6,914.3" stroke="#3a3a3a" stroke-width="0.9" fill="none" stroke-linejoin="round" stroke-linecap="round" />
<path d="M405.6,914.3 C412,914.2 417,913 421,911.7 C427,910 432.5,907 436.4,902 C438.5,898 440,892 441.5,885.6 L449.5,860 L469.5,780 L485.2,698" stroke="#3a3a3a" stroke-width="0.9" fill="none" stroke-linejoin="round" stroke-linecap="round" />
<path d="M651.5,562 C651,563.5 651,566 651,570 L650.8,580.5 C651,582.5 652,584 653.5,584.7" stroke="#3a3a3a" stroke-width="0.9" fill="none" stroke-linejoin="round" stroke-linecap="round" />
<path d="M651.5,562 C652,560.5 654,560 656,559.7 L743.5,551" stroke="#3a3a3a" stroke-width="0.9" fill="none" stroke-linejoin="round" stroke-linecap="round" />
<path d="M782.5,551.2 L872.3,559.3 C874.5,559.8 876,561.5 876,564.6 L876.4,579.3 C876,580.8 874,581.2 873.1,581.6 L872.3,583.2" stroke="#3a3a3a" stroke-width="0.9" fill="none" stroke-linejoin="round" stroke-linecap="round" />
<path d="M743.5,551 L749.8,546 C750.5,545.4 751.2,545.2 752,545.2 L772.5,545.2 C773.4,545.2 774.2,545.5 775,546.1 L782.5,551.2" stroke="#3a3a3a" stroke-width="0.9" fill="none" stroke-linejoin="round" stroke-linecap="round" />
<line x1="747.6" y1="548.4" x2="776.6" y2="548.4" stroke="#3a3a3a" stroke-width="0.9" />
<path d="M743.5,551 C755,552.6 770,552.6 782.5,551.2" stroke="#3a3a3a" stroke-width="0.9" fill="none" stroke-linejoin="round" stroke-linecap="round" />
<path d="M653.5,584.7C661.25,584.63 682.25,584.45 700,584.3C717.75,584.15 740,583.95 760,583.8C780,583.65 801.28,583.5 820,583.4C838.72,583.3 863.58,583.23 872.3,583.2" stroke="#3a3a3a" stroke-width="0.9" fill="none" stroke-linejoin="round" stroke-linecap="round" />
<path d="M653.9,584.9C653.63,590.75 652.83,604.15 652.3,620C651.77,635.85 651.05,659.83 650.7,680C650.35,700.17 649.82,726 650.2,741C650.58,756 651.87,760.17 653,770C654.13,779.83 655.5,786.67 657,800C658.5,813.33 660.5,835 662,850C663.5,865 664.7,879.02 666,890C667.3,900.98 669.17,911.58 669.8,915.9" stroke="#3a3a3a" stroke-width="0.9" fill="none" stroke-linejoin="round" stroke-linecap="round" />
<path d="M669.8,915.9 C670.5,917.5 671,918.3 672,918.5" stroke="#3a3a3a" stroke-width="0.9" fill="none" stroke-linejoin="round" stroke-linecap="round" />
<path d="M672,918.5C680,918.18 705.35,917.03 720,916.6C734.65,916.17 746.57,915.87 759.9,915.9C773.23,915.93 784.92,916.28 800,916.8C815.08,917.32 842,918.63 850.4,919" stroke="#3a3a3a" stroke-width="0.9" fill="none" stroke-linejoin="round" stroke-linecap="round" />
<path d="M873.4,582.5C873.55,583.07 874.1,581.32 874.3,585.9C874.5,590.48 874.5,600.98 874.6,610C874.7,619.02 874.8,625 874.9,640C875,655 875.15,683.93 875.2,700C875.25,716.07 875.73,724.73 875.2,736.4C874.67,748.07 873.53,757.73 872,770C870.47,782.27 868.17,795 866,810C863.83,825 861.15,842.35 859,860C856.85,877.65 854.08,906.58 853.1,915.9" stroke="#3a3a3a" stroke-width="0.9" fill="none" stroke-linejoin="round" stroke-linecap="round" />
<path d="M853.1,915.9 C852,918 851,918.8 850.4,919" stroke="#3a3a3a" stroke-width="0.9" fill="none" stroke-linejoin="round" stroke-linecap="round" />
<path d="M737.2,718.9 L680,717.2 C677,717.2 676,718.6 676,720.5 L689.3,860 L692,897.2 C692.5,901 694,903.5 696,903.9" stroke="#3a3a3a" stroke-width="0.9" fill="none" stroke-linejoin="round" stroke-linecap="round" />
<path d="M696,903.9C701.67,903.58 718.92,902.45 730,902C741.08,901.55 751.67,901.17 762.5,901.2C773.33,901.23 785.67,901.75 795,902.2C804.33,902.65 814.58,903.62 818.5,903.9" stroke="#3a3a3a" stroke-width="0.9" fill="none" stroke-linejoin="round" stroke-linecap="round" />
<path d="M818.5,903.9 C821,903.5 823,902.5 823.8,901.2 L834.5,860 L847.7,721.5 C847.5,719 846.5,718 844.8,718 L835.5,718.4" stroke="#3a3a3a" stroke-width="0.9" fill="none" stroke-linejoin="round" stroke-linecap="round" />
<path d="M737.2,718.9 C738.5,728 744,735 751.8,740.2" stroke="#3a3a3a" stroke-width="0.9" fill="none" stroke-linejoin="round" stroke-linecap="round" />
<path d="M769.5,739.4 C778,735 784,728 786.7,718.6 L818.6,718.4" stroke="#3a3a3a" stroke-width="0.9" fill="none" stroke-linejoin="round" stroke-linecap="round" />
<path d="M818.6,718.6 L818.8,721.4 L821.4,722.7 L821.6,725.2 L818.6,726 L819.1,735.7 L820.4,736.5 L820.4,745.5 C820.6,746.8 821,747.5 822,747.5 L832.7,747.5 C834,747.4 834.5,746.8 834.5,746 L834.5,735.7 L835.7,735.2 L835.5,725.5 L832.9,725 L832.7,723.4 L834.5,722.4 L834.7,718.6" stroke="#3a3a3a" stroke-width="0.9" fill="none" stroke-linejoin="round" stroke-linecap="round" />
<path d="M751.8,740.2 L755.6,753 C753,755.5 752.5,757.5 752.3,760.2 L751.6,766.7 C748,767.5 745.5,769.5 744,772.5 C742,779 741.3,792 741.2,807 C741.2,820 741.6,830 742.5,835 C743.2,840 744.3,843 745.4,845" stroke="#3a3a3a" stroke-width="0.9" fill="none" stroke-linejoin="round" stroke-linecap="round" />
<path d="M769.5,739.4 L765.5,753 C768,755.5 768.8,757.5 769.2,760.2 L770.9,766 C774.5,767.5 777,769.5 778.5,772.5 C780.5,779 781.4,792 781.5,807 C781.5,820 781,830 780.2,835 C779,840 777.7,843 776.3,845" stroke="#3a3a3a" stroke-width="0.9" fill="none" stroke-linejoin="round" stroke-linecap="round" />
<path d="M742.6,834 L743.7,882.7 C744.5,885.5 747,887 750.6,887.5 C755,888.5 758,888.7 761,888.6 C767,888.2 772,887 775.5,885.3 C776.8,883.5 777.2,881 777.2,879.3 L779.9,836" stroke="#3a3a3a" stroke-width="0.9" fill="none" stroke-linejoin="round" stroke-linecap="round" />
<line x1="756.6" y1="741.2" x2="756.6" y2="790.9" stroke="#666" stroke-width="0.9" />
<line x1="764.2" y1="741.2" x2="764.2" y2="790.9" stroke="#666" stroke-width="0.9" />
<line x1="757.4" y1="842.4" x2="757.4" y2="896.4" stroke="#666" stroke-width="0.9" />
<line x1="764.2" y1="842.4" x2="764.2" y2="896.4" stroke="#666" stroke-width="0.9" />
<ellipse cx="720.9" cy="880.8" rx="4.9" ry="1.4" fill="#999"/>
<ellipse cx="799.3" cy="880.8" rx="4.9" ry="1.4" fill="#999"/>
<line x1="720.9" y1="882.5" x2="720.9" y2="916.7" stroke="#8a8a8a" stroke-width="1.1" stroke-dasharray="3.5,3"/>
<line x1="799.3" y1="882.5" x2="799.3" y2="916.7" stroke="#8a8a8a" stroke-width="1.1" stroke-dasharray="3.5,3"/>
<line x1="720.9" y1="916.7" x2="720.9" y2="937.4" stroke="#000" stroke-width="1.5" />
<line x1="799.3" y1="916.7" x2="799.3" y2="937.4" stroke="#000" stroke-width="1.5" />
<line x1="734.3" y1="925.1" x2="785.9" y2="925.1" stroke="#000" stroke-width="1.5" />
<path d="M721.5,925.1L737.5,920.8L737.5,929.4Z" fill="#000"/>
<path d="M798.7,925.1L782.7,929.4L782.7,920.8Z" fill="#000"/>
<text x="755" y="942" font-size="17.5" text-anchor="start" fill="#000" >6″</text>
<line x1="669.8" y1="917.2" x2="669.8" y2="957.1" stroke="#000" stroke-width="1.5" />
<line x1="853.3" y1="919.9" x2="853.3" y2="957.1" stroke="#000" stroke-width="1.5" />
<line x1="682.8" y1="948.4" x2="840.2" y2="948.4" stroke="#000" stroke-width="1.5" />
<path d="M670,948.4L686,944.1L686,952.7Z" fill="#000"/>
<path d="M853,948.4L837,952.7L837,944.1Z" fill="#000"/>
<text x="735.4" y="969.4" font-size="17.5" text-anchor="start" fill="#000" >13 1/8″</text>
<line x1="762" y1="684.8" x2="762" y2="716.7" stroke="#000" stroke-width="1.5" />
<line x1="827.3" y1="684.8" x2="827.3" y2="716.7" stroke="#000" stroke-width="1.5" />
<line x1="775" y1="697.3" x2="814.2" y2="697.3" stroke="#000" stroke-width="1.5" />
<path d="M762.2,697.3L778.2,693L778.2,701.6Z" fill="#000"/>
<path d="M827,697.3L811,701.6L811,693Z" fill="#000"/>
<text x="775.9" y="681.6" font-size="17.5" text-anchor="start" fill="#000" >4 3/8″</text>
<line x1="847.7" y1="717.8" x2="877" y2="717.8" stroke="#8a8a8a" stroke-width="1.1" stroke-dasharray="4.2,3.8"/>
<line x1="880" y1="717.7" x2="906.7" y2="717.7" stroke="#000" stroke-width="1.5" />
<line x1="842.5" y1="919.9" x2="906.7" y2="919.9" stroke="#000" stroke-width="1.5" />
<line x1="892.2" y1="730.8" x2="892.2" y2="906.8" stroke="#000" stroke-width="1.5" />
<path d="M892.2,718L896.5,734L887.9,734Z" fill="#000"/>
<path d="M892.2,919.6L887.9,903.6L896.5,903.6Z" fill="#000"/>
<text x="903" y="826.4" font-size="17.5" text-anchor="start" fill="#000" >15 1/8″</text>
</svg>
</body></html>
